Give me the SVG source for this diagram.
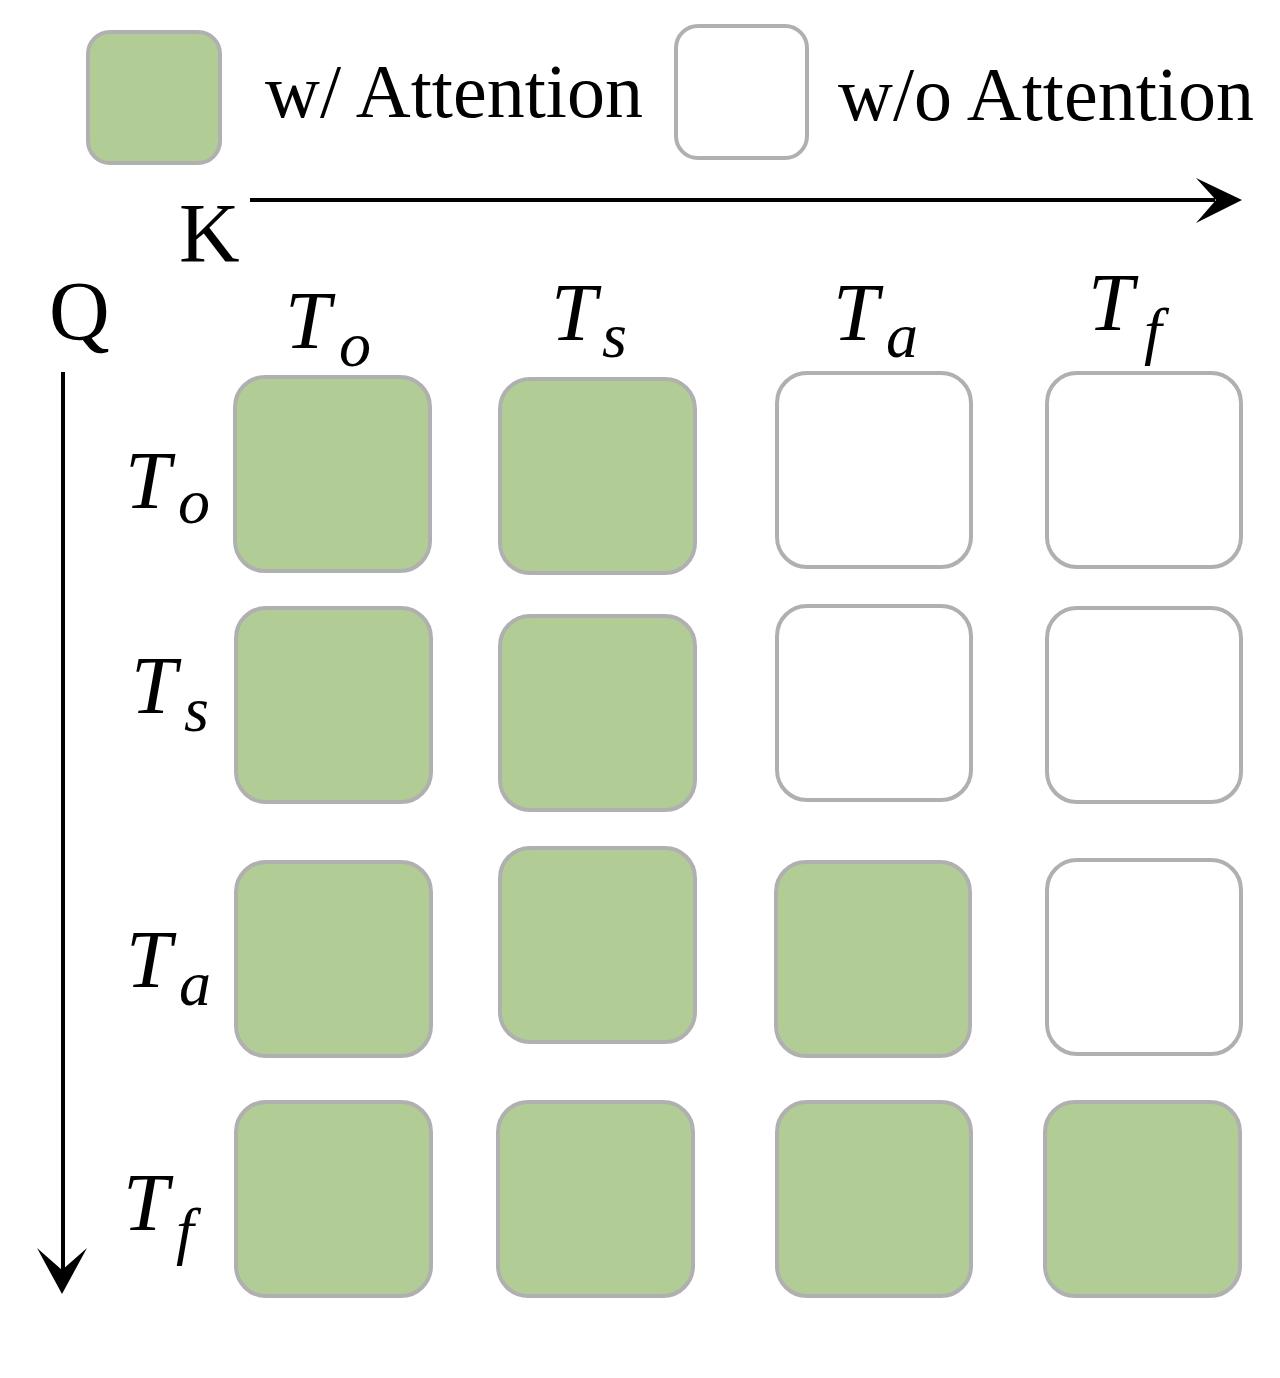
<svg xmlns="http://www.w3.org/2000/svg" width="1280" height="1378" viewBox="0 0 1280 1378">
<style>
.on{fill:#b1cd95;stroke:#b0b0b0;stroke-width:4}
.off{fill:#ffffff;stroke:#b0b0b0;stroke-width:4}
.leg{font-family:"Liberation Serif",serif;font-size:76px;fill:#000}
.ax{font-family:"Liberation Serif",serif;font-size:84px;fill:#000}
.T{font-family:"Liberation Serif",serif;font-style:italic;font-size:82px;fill:#000}
.sub{font-family:"Liberation Serif",serif;font-style:italic;font-size:64px;fill:#000}
</style>
<rect width="1280" height="1378" fill="#ffffff"/>
<g id="legend">
  <g id="legend-on"><rect class="on" x="88" y="32" width="132" height="131" rx="22"/><text class="leg" x="265" y="117">w/ Attention</text></g>
  <g id="legend-off"><rect class="off" x="676" y="26" width="131" height="132" rx="22"/><text class="leg" x="838" y="120">w/o Attention</text></g>
</g>
<g id="connectors">
  <line x1="250" y1="200" x2="1215" y2="200" stroke="#000" stroke-width="4"/>
  <path d="M1242,200 L1196,178 L1216,200 L1196,223 Z" fill="#000"/>
  <line x1="63" y1="372" x2="63" y2="1275" stroke="#000" stroke-width="4"/>
  <path d="M62,1294 L37,1248 L62,1270 L87,1248 Z" fill="#000"/>
</g>
<g id="axis-labels">
  <text class="ax" x="179" y="262">K</text>
  <text class="ax" x="49" y="340">Q</text>
</g>
<g id="col-headers">
  <g id="col-To"><text class="T" x="285" y="348">T</text><text class="sub" x="339" y="366">o</text></g>
  <g id="col-Ts"><text class="T" x="551" y="340">T</text><text class="sub" x="602" y="357">s</text></g>
  <g id="col-Ta"><text class="T" x="833" y="340">T</text><text class="sub" x="886" y="357">a</text></g>
  <g id="col-Tf"><text class="T" x="1088" y="330">T</text><text class="sub" x="1144" y="352">f</text></g>
</g>
<g id="row-headers">
  <g id="row-To"><text class="T" x="125" y="508">T</text><text class="sub" x="178" y="523">o</text></g>
  <g id="row-Ts"><text class="T" x="131" y="713">T</text><text class="sub" x="184" y="731">s</text></g>
  <g id="row-Ta"><text class="T" x="126" y="987">T</text><text class="sub" x="179" y="1005">a</text></g>
  <g id="row-Tf"><text class="T" x="123" y="1230">T</text><text class="sub" x="176" y="1252">f</text></g>
</g>
<g id="grid">
  <g id="c11"><rect class="on" x="235" y="377" width="195" height="194" rx="30"/></g>
  <g id="c12"><rect class="on" x="500" y="379" width="195" height="194" rx="30"/></g>
  <g id="c13"><rect class="off" x="777" y="373" width="194" height="194" rx="30"/></g>
  <g id="c14"><rect class="off" x="1047" y="373" width="194" height="194" rx="30"/></g>
  <g id="c21"><rect class="on" x="236" y="608" width="195" height="194" rx="30"/></g>
  <g id="c22"><rect class="on" x="500" y="616" width="195" height="194" rx="30"/></g>
  <g id="c23"><rect class="off" x="777" y="606" width="194" height="194" rx="30"/></g>
  <g id="c24"><rect class="off" x="1047" y="608" width="194" height="194" rx="30"/></g>
  <g id="c31"><rect class="on" x="236" y="862" width="195" height="194" rx="30"/></g>
  <g id="c32"><rect class="on" x="500" y="848" width="195" height="194" rx="30"/></g>
  <g id="c33"><rect class="on" x="776" y="862" width="194" height="194" rx="30"/></g>
  <g id="c34"><rect class="off" x="1047" y="860" width="194" height="194" rx="30"/></g>
  <g id="c41"><rect class="on" x="236" y="1102" width="195" height="194" rx="30"/></g>
  <g id="c42"><rect class="on" x="498" y="1102" width="195" height="194" rx="30"/></g>
  <g id="c43"><rect class="on" x="777" y="1102" width="194" height="194" rx="30"/></g>
  <g id="c44"><rect class="on" x="1045" y="1102" width="195" height="194" rx="30"/></g>
</g>
</svg>
